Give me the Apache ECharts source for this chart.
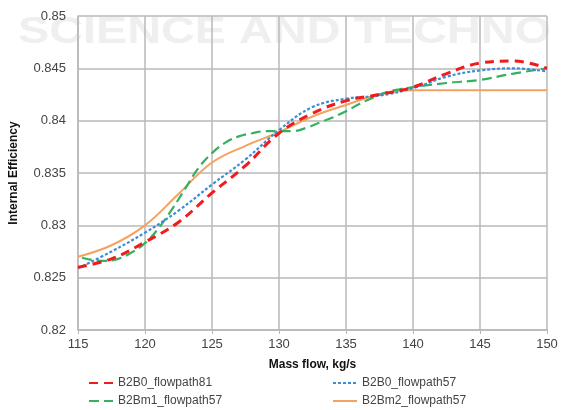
<!DOCTYPE html>
<html>
<head>
<meta charset="utf-8">
<script src="https://cdn.jsdelivr.net/npm/echarts@6/dist/echarts.min.js"></script>
<style>html,body{margin:0;padding:0;background:#fff}#c{width:563px;height:410px}</style>
</head>
<body>
<div id="c"></div>
<script>
const xTicks = [115, 120, 125, 130, 135, 140, 145, 150];
const yTicks = [0.82, 0.825, 0.83, 0.835, 0.84, 0.845, 0.85];

const seriesNames = ['B2B0_flowpath81', 'B2B0_flowpath57', 'B2Bm1_flowpath57', 'B2Bm2_flowpath57'];

const redX   = [115, 117.5, 120, 122.5, 125, 127.5, 130, 132.5, 135, 137.5, 140, 142.5, 145, 147.5, 150];
const redY   = [0.8260, 0.8268, 0.8284, 0.8303, 0.8331, 0.8357, 0.8388, 0.8407, 0.8419, 0.8425, 0.8432, 0.8445, 0.8455, 0.8457, 0.8450];

const blueX  = [115, 117.5, 120, 122.5, 125, 127.5, 130, 132.5, 135, 137.5, 140, 142.5, 145, 147.5, 150];
const blueY  = [0.8259, 0.8275, 0.8293, 0.8314, 0.8339, 0.8363, 0.8391, 0.8413, 0.8421, 0.8424, 0.8431, 0.8442, 0.8448, 0.8450, 0.8447];

const greenX = [115.3, 116, 117, 118, 119, 120, 121, 122, 123, 124, 125, 126, 127, 128, 129, 130, 131, 132, 133, 134, 135, 136, 137, 138, 139, 140, 142.5, 145, 147.5, 150];
const greenY = [0.8269, 0.8267, 0.8266, 0.8268, 0.8274, 0.8283, 0.8297, 0.8315, 0.8335, 0.8355, 0.8369, 0.8379, 0.8385, 0.8388, 0.8390, 0.8390, 0.8390, 0.8393, 0.8398, 0.8403, 0.8409, 0.8416, 0.8422, 0.8427, 0.8430, 0.8432, 0.8436, 0.8439, 0.8445, 0.8450];

const orangeX = [115, 117.5, 120, 122.5, 125, 127.5, 130, 132.5, 135, 137.5, 140, 142.5, 145, 147.5, 150];
const orangeY = [0.8270, 0.8281, 0.8300, 0.8330, 0.8360, 0.8376, 0.8389, 0.8404, 0.8415, 0.8425, 0.8429, 0.8429, 0.8429, 0.8429, 0.8429];

const colors = ['#f21b1b', '#3b8ed6', '#35b05c', '#f4a261'];

function pairs(xs, ys) { return xs.map((x, i) => [x, ys[i]]); }

const chart = echarts.init(document.getElementById('c'), null, {renderer: 'canvas'});
const gridCol = '#b8b8b8';
const font = 'Liberation Sans, Arial, sans-serif';

function legendAt(name, left, top) {
  return {
    data: [name], left: left, top: top, orient: 'horizontal',
    itemWidth: 24, itemHeight: 10, itemGap: 4, padding: 0,
    itemStyle: {opacity: 0},
    textStyle: {color: '#444', fontSize: 12, fontFamily: font}
  };
}

chart.setOption({
  animation: false,
  backgroundColor: '#fff',
  graphic: [{
    type: 'text', left: 18, top: 15, z: -10, silent: true, scaleX: 1.3,
    style: {text: 'SCIENCE AND TECHNO', fill: '#efefef', font: 'bold 36px Liberation Sans, Arial, sans-serif'}
  }],
  grid: {left: 76, right: 16, top: 16, bottom: 80, show: false},
  legend: [
    legendAt(seriesNames[0], 88, 377),
    legendAt(seriesNames[1], 332, 377),
    legendAt(seriesNames[2], 88, 395),
    legendAt(seriesNames[3], 332, 395)
  ],
  xAxis: {
    type: 'value', min: 115, max: 150, interval: 5,
    name: 'Mass flow, kg/s', nameLocation: 'middle', nameGap: 29,
    nameTextStyle: {color: '#111', fontSize: 12, fontWeight: 'bold', fontFamily: font},
    axisLine: {show: true, lineStyle: {color: gridCol, width: 1.5}},
    axisTick: {show: true, length: 4, lineStyle: {color: gridCol}},
    axisLabel: {color: '#444', fontSize: 13, fontFamily: font, margin: 8},
    splitLine: {show: true, lineStyle: {color: gridCol, width: 1.5}}
  },
  yAxis: {
    type: 'value', min: 0.82, max: 0.85, interval: 0.005,
    name: 'Internal Efficiency', nameLocation: 'middle', nameGap: 58, nameRotate: 90,
    nameTextStyle: {color: '#111', fontSize: 12, fontWeight: 'bold', fontFamily: font},
    axisLine: {show: true, lineStyle: {color: gridCol, width: 1.5}},
    axisTick: {show: false},
    axisLabel: {color: '#444', fontSize: 13, fontFamily: font, margin: 12,
      formatter: v => String(parseFloat(v.toFixed(3)))},
    splitLine: {show: true, lineStyle: {color: gridCol, width: 1.5}}
  },
  series: [
    {name: seriesNames[0], type: 'line', data: pairs(redX, redY), smooth: 0.4, symbol: 'none', z: 5,
     lineStyle: {color: colors[0], width: 3, type: [9, 6]}, itemStyle: {color: colors[0]}},
    {name: seriesNames[1], type: 'line', data: pairs(blueX, blueY), smooth: 0.4, symbol: 'none', z: 4,
     lineStyle: {color: colors[1], width: 2.2, type: [3, 2]}, itemStyle: {color: colors[1]}},
    {name: seriesNames[2], type: 'line', data: pairs(greenX, greenY), smooth: 0.4, symbol: 'none', z: 3,
     lineStyle: {color: colors[2], width: 2.2, type: [10, 5]}, itemStyle: {color: colors[2]}},
    {name: seriesNames[3], type: 'line', data: pairs(orangeX, orangeY), smooth: 0.4, symbol: 'none', z: 2,
     lineStyle: {color: colors[3], width: 2}, itemStyle: {color: colors[3]}}
  ]
});
</script>
</body>
</html>
